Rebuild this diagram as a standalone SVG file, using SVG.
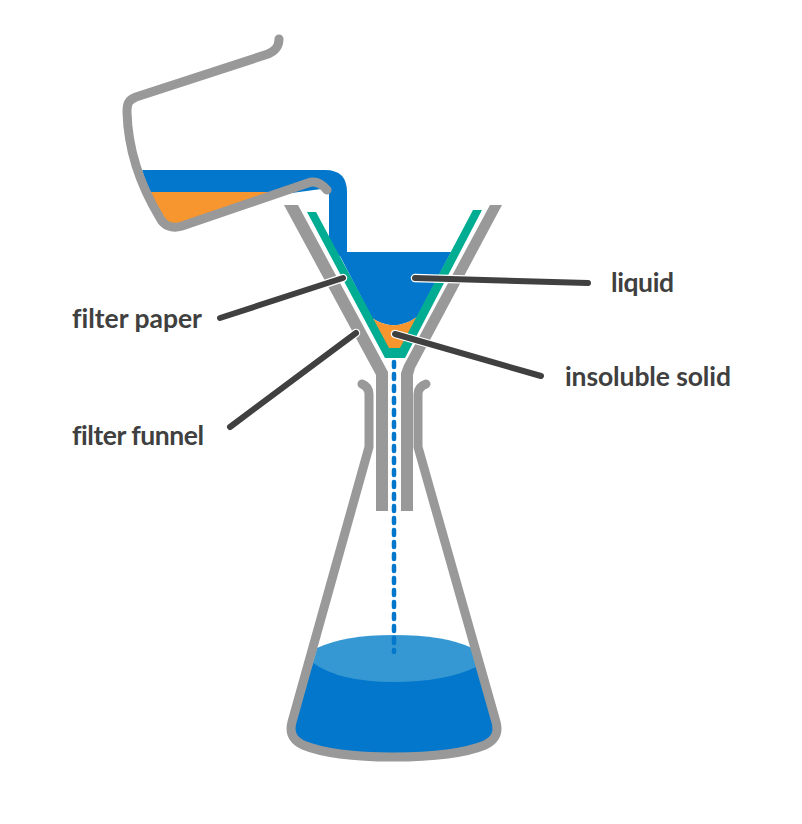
<svg xmlns="http://www.w3.org/2000/svg" width="802" height="824" viewBox="0 0 802 824">
<defs>
<style>
.glass{fill:none;stroke:#999;stroke-width:9;stroke-linecap:round;stroke-linejoin:round}
.gray{fill:#999}
.blue{fill:#0277cc}
.orange{fill:#f7962e}
.halo{fill:none;stroke:#fff;stroke-width:8.5;stroke-linecap:round}
.lead{fill:none;stroke:#404040;stroke-width:6;stroke-linecap:round}
text{font-family:"Lato","Open Sans","Liberation Sans",sans-serif;font-size:26.5px;font-weight:700;fill:#404040;font-variant-ligatures:none}
</style>
</defs>
<rect width="802" height="824" fill="#fff"/>
<g id="beaker">
<path class="blue" d="M142,170 H325 Q347,170 347,192 V260 L338,255 L329,244 V188 L200,205 L150,195 Z"/>
<path class="orange" d="M150,192 H272 L175,226 L160,218 Z"/>
<path class="glass" d="M279,39 C279,47 275,51 268,54 L136,97 C128,100 127,104 127,112 C128,150 140,185 160,218 C164,226 172,229 182,226 L308,183 C316,180 322,184 327,190"/>
</g>
<g id="funnel">
<path class="gray" d="M284,205 H298 L388,372 V511 H376 V375 Z"/>
<path class="gray" d="M490,205 H502 L415,368 L413,375 V511 H401 V373 L404,365 Z"/>
<path class="blue" d="M338,252 H451 L417,317 Q394,333 372,318 Z"/>
<path class="orange" d="M372,318 Q394,333 417,317 L400,350 H389 Z"/>
<path fill="#00ad93" d="M307,212 H316 L389,348 H400 L473,210 H482 L405,358 H385 Z"/>
</g>
<g id="flask">
<path class="blue" d="M314,660 H476 L496,722 C499,733 495,740 485,745 C463,754 428,757 393,757 C360,757 325,754 303,745 C293,740 289,733 292,722 Z"/>
<path fill="#3598d3" d="M317,648 Q345,635 393,635 Q445,635 472,648 L476,667 Q445,682 393,682 Q340,682 313,663 Z"/>
<path class="glass" d="M362,384 Q369,387 369,394 V447 L292,722 C289,733 293,740 303,745 C325,754 360,757 393,757 C428,757 463,754 485,745 C495,740 499,733 496,722 L418,447 V394 Q418,387 426,384"/>
</g>
<path id="filtrate" fill="none" stroke="#0277cc" stroke-width="4.5" stroke-linecap="round" stroke-dasharray="5 7" d="M394,362 V652"/>
<g id="connectors">
<path class="halo" d="M415,278 L588,283"/><path class="lead" d="M415,278 L588,283"/>
<path class="halo" d="M343,278 L220,318"/><path class="lead" d="M343,278 L220,318"/>
<path class="halo" d="M356,333 L230,427"/><path class="lead" d="M356,333 L230,427"/>
<path class="halo" d="M395,334 L541,376"/><path class="lead" d="M395,334 L541,376"/>
</g>
<g id="labels">
<text x="611" y="292" textLength="63">liquid</text>
<text x="72" y="328" textLength="130">filter paper</text>
<text x="565" y="386" textLength="166">insoluble solid</text>
<text x="72" y="445" textLength="132">filter funnel</text>
</g>
</svg>
